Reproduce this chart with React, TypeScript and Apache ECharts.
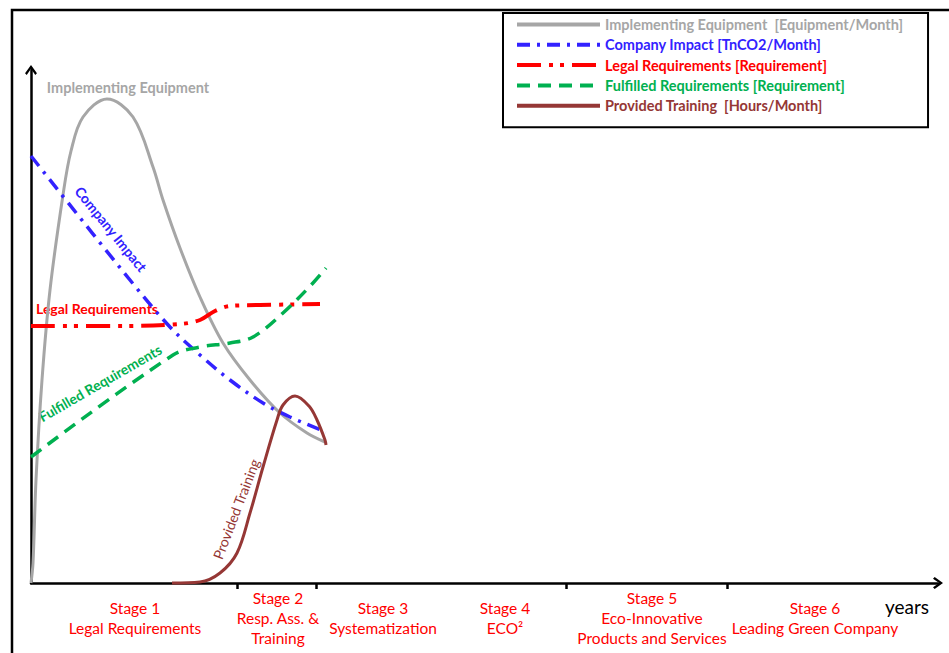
import React, { useEffect, useRef } from "react";
import * as echarts from "echarts";

const FONT = "Lato";

// axis extents (units along the axes)
const X_MAX = 907;
const Y_MAX = 513;

// stage boundaries on the time axis
const stageBoundaries = [206, 285, 535, 696];
// where each stage caption sits along the time axis
const stageLabelAt = [104, 247, 352, 474, 621, 784];
const stageLabels = [
  "Stage 1\nLegal Requirements",
  "Stage 2\nResp. Ass. &\nTraining",
  "Stage 3\nSystematization",
  "Stage 4\nECO²",
  "Stage 5\nEco-Innovative\nProducts and Services",
  "Stage 6\nLeading Green Company",
];

const seriesNames = [
  "Implementing Equipment  [Equipment/Month]",
  "Company Impact [TnCO2/Month]",
  "Legal Requirements [Requirement]",
  "Fulfilled Requirements [Requirement]",
  "Provided Training  [Hours/Month]",
];

const implementingEquipment = [
  [0, 0], [2, 20], [5, 103], [11, 203], [19, 293], [32, 388], [40, 432],
  [52, 466], [76, 484], [102, 466], [122, 416], [132, 383], [149, 335],
  [169, 286], [192, 240], [219, 203], [249, 170], [276, 150], [294, 141],
];
const companyImpact = [
  [0, 427], [99, 303], [139, 256], [169, 228], [199, 203], [232, 180], [259, 166], [295, 151],
];
const legalRequirements = [
  [0, 257], [89, 257], [149, 259], [169, 263], [184, 272], [199, 277], [229, 278], [289, 279],
];
const fulfilledRequirements = [
  [0, 126], [142, 228], [169, 236], [199, 240], [222, 246], [252, 270], [282, 300], [295, 315],
];
const providedTraining = [
  [141, 0], [169, 1], [189, 10], [206, 30], [219, 70], [232, 116], [246, 163],
  [252, 178], [264, 187], [278, 177], [286, 163], [294, 143], [295, 138],
];

const colors = ["#A6A6A6", "#3322FF", "#FF0000", "#00B050", "#953735"];
const widths = [3, 3.5, 4, 3.5, 3];
const dashes: any[] = ["solid", [13, 7, 3, 7], [24, 8, 4, 7, 4, 8], [13, 8], "solid"];
const seriesData = [
  implementingEquipment,
  companyImpact,
  legalRequirements,
  fulfilledRequirements,
  providedTraining,
];

// chevron arrow head, pointing up
const ARROW = "path://M5,0 L10,7 L8.6,8.4 L5,3.2 L1.4,8.4 L0,7 Z";

function buildOption(): any {
  return {
    animation: false,
    backgroundColor: "#ffffff",
    grid: { left: 31, right: 11, top: 70, bottom: 70, containLabel: false },
    xAxis: {
      type: "value",
      min: 0,
      max: X_MAX,
      axisLine: {
        show: true,
        onZero: false,
        symbol: ["none", ARROW],
        symbolSize: [12, 10],
        lineStyle: { color: "#000", width: 2.5 },
      },
      splitLine: { show: false },
      axisTick: {
        show: true,
        customValues: stageBoundaries,
        length: 6,
        inside: false,
        lineStyle: { color: "#000", width: 2.5 },
      },
      axisLabel: {
        show: true,
        customValues: stageLabelAt,
        formatter: (v: number) => {
          const i = stageLabelAt.findIndex((p) => Math.abs(p - v) < 0.5);
          return i >= 0 ? stageLabels[i] : "";
        },
        color: "#FF0000",
        fontFamily: FONT,
        fontSize: 15.5,
        lineHeight: 20,
        verticalAlign: "middle",
        margin: 35,
        hideOverlap: false,
      },
    },
    yAxis: {
      type: "value",
      min: 0,
      max: Y_MAX,
      axisLine: {
        show: true,
        onZero: false,
        symbol: ["none", ARROW],
        symbolSize: [12, 10],
        lineStyle: { color: "#000", width: 2.5 },
      },
      splitLine: { show: false },
      axisTick: { show: false },
      axisLabel: { show: false },
    },
    legend: {
      orient: "vertical",
      left: 503,
      top: 13,
      padding: [4, 25, 14, 12],
      itemGap: 5.3,
      itemWidth: 83,
      itemHeight: 14,
      borderColor: "#000",
      borderWidth: 2,
      selectedMode: false,
      itemStyle: { opacity: 0 },
      lineStyle: { width: 4 },
      data: seriesNames.map((n, i) => ({ name: n, textStyle: { color: colors[i] } })),
      textStyle: { fontFamily: FONT, fontWeight: "bold", fontSize: 14.5 },
    },
    series: seriesNames.map((name, i) => ({
      type: "line",
      name,
      data: seriesData[i],
      smooth: 0.35,
      symbol: "none",
      clip: false,
      lineStyle: { color: colors[i], width: widths[i], type: dashes[i], cap: "butt" },
      itemStyle: { color: colors[i] },
      z: 2 + i,
    })),
    graphic: [
      {
        type: "rect",
        silent: true,
        z: -10,
        shape: { x: 12, y: 10, width: 1000, height: 1000 },
        style: { fill: "none", stroke: "#000", lineWidth: 2.5 },
      },
      {
        type: "text",
        x: 128, y: 87,
        style: { text: "Implementing Equipment", fill: colors[0], font: `bold 14.5px ${FONT}`, textAlign: "center", textVerticalAlign: "middle" },
      },
      {
        type: "text",
        x: 111, y: 229, rotation: (-51 * Math.PI) / 180,
        style: { text: "Company Impact", fill: colors[1], font: `bold 14px ${FONT}`, textAlign: "center", textVerticalAlign: "middle" },
      },
      {
        type: "text",
        x: 97, y: 308,
        style: { text: "Legal Requirements", fill: colors[2], font: `bold 14px ${FONT}`, textAlign: "center", textVerticalAlign: "middle" },
      },
      {
        type: "text",
        x: 100, y: 383, rotation: (30 * Math.PI) / 180,
        style: { text: "Fulfilled Requirements", fill: colors[3], font: `bold 14px ${FONT}`, textAlign: "center", textVerticalAlign: "middle" },
      },
      {
        type: "text",
        x: 236, y: 509, rotation: (69 * Math.PI) / 180,
        style: { text: "Provided Training", fill: colors[4], font: `14px ${FONT}`, textAlign: "center", textVerticalAlign: "middle" },
      },
      {
        type: "text",
        x: 907, y: 606,
        style: { text: "years", fill: "#000", font: `19px ${FONT}`, textAlign: "center", textVerticalAlign: "middle" },
      },
    ],
  };
}

export default function App() {
  const ref = useRef<HTMLDivElement>(null);
  useEffect(() => {
    if (!ref.current) return;
    const chart = echarts.init(ref.current, null, { renderer: "svg" });
    chart.setOption(buildOption());
    return () => chart.dispose();
  }, []);
  return (
    <div
      ref={ref}
      style={{ position: "absolute", left: 0, top: 0, width: 949, height: 653, background: "#fff" }}
    />
  );
}
